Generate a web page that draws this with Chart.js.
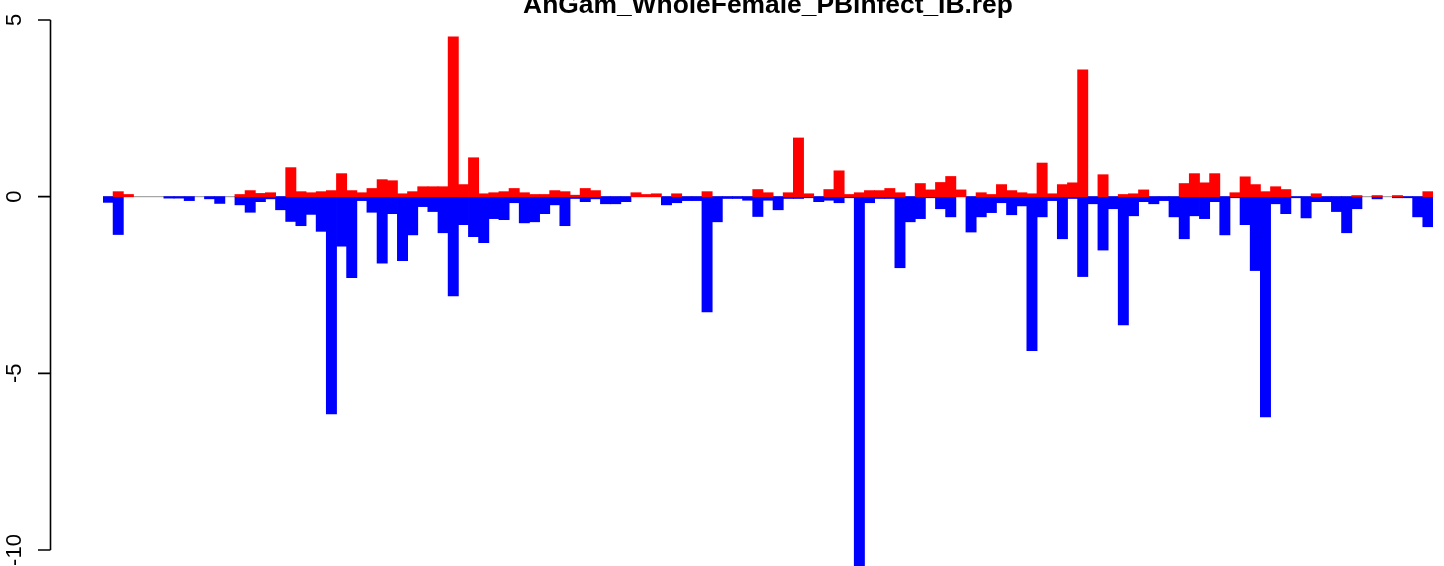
<!DOCTYPE html>
<html>
<head>
<meta charset="utf-8">
<script src="https://cdn.jsdelivr.net/npm/chart.js@4.4.0/dist/chart.umd.min.js"></script>
<style>
  html, body { margin: 0; padding: 0; background: #fff; }
  #wrap { width: 1444px; height: 566px; }
</style>
</head>
<body>
<div id="wrap"><canvas id="barChart" width="1444" height="566"></canvas></div>
<script>
const chartTitle = 'AnGam_WholeFemale_PBinfect_IB.rep';

// positive part of each position (red)
const upValues = [
  0, 0.14, 0.06, 0, 0, 0, 0, 0, 0, 0,
  0, 0, 0, 0.06, 0.17, 0.09, 0.11, 0, 0.82, 0.14,
  0.11, 0.14, 0.17, 0.65, 0.17, 0.11, 0.23, 0.48, 0.45, 0.08,
  0.14, 0.28, 0.28, 0.28, 4.52, 0.34, 1.10, 0.08, 0.11, 0.14,
  0.23, 0.11, 0.06, 0.06, 0.17, 0.14, 0.04, 0.23, 0.17, 0,
  0, 0, 0.11, 0.06, 0.08, 0, 0.08, 0, 0, 0.14,
  0, 0, 0, 0, 0.20, 0.11, 0, 0.11, 1.66, 0.08,
  0, 0.20, 0.73, 0.06, 0.11, 0.17, 0.17, 0.23, 0.11, 0,
  0.37, 0.19, 0.40, 0.57, 0.19, 0, 0.11, 0.06, 0.34, 0.17,
  0.11, 0.08, 0.95, 0.08, 0.34, 0.39, 3.59, 0, 0.62, 0,
  0.06, 0.08, 0.19, 0, 0, 0, 0.37, 0.65, 0.39, 0.65,
  0, 0.11, 0.56, 0.34, 0.14, 0.28, 0.20, 0, 0, 0.08,
  0, 0, 0, 0.03, 0, 0.03, 0, 0.03, 0, 0,
  0.14
];

// negative part of each position (blue)
const downValues = [
  -0.16, -1.07, 0, 0, 0, 0, -0.04, -0.04, -0.11, 0,
  -0.06, -0.19, 0, -0.23, -0.44, -0.14, -0.06, -0.37, -0.70, -0.82,
  -0.50, -0.98, -6.15, -1.40, -2.29, -0.11, -0.44, -1.88, -0.48, -1.81,
  -1.08, -0.28, -0.42, -1.02, -2.81, -0.79, -1.13, -1.30, -0.62, -0.65,
  -0.17, -0.74, -0.71, -0.48, -0.23, -0.82, -0.05, -0.14, -0.06, -0.20,
  -0.20, -0.14, 0, 0, 0, -0.23, -0.17, -0.11, -0.11, -3.26,
  -0.71, -0.05, -0.05, -0.10, -0.56, -0.10, -0.37, -0.05, -0.05, -0.03,
  -0.14, -0.10, -0.17, -0.03, -11.0, -0.17, -0.05, -0.05, -2.01, -0.71,
  -0.62, -0.03, -0.34, -0.57, 0, -1.00, -0.57, -0.45, -0.17, -0.51,
  -0.26, -4.36, -0.57, -0.11, -1.19, -0.05, -2.26, -0.20, -1.51, -0.34,
  -3.63, -0.54, -0.14, -0.20, -0.11, -0.57, -1.19, -0.54, -0.62, -0.14,
  -1.08, -0.03, -0.79, -2.09, -6.23, -0.20, -0.48, -0.03, -0.60, -0.14,
  -0.14, -0.42, -1.02, -0.34, 0, -0.06, 0, -0.03, -0.03, -0.57,
  -0.85
];

const yTicks = [5, 0, -5, -10];
const yTickLabels = ['5', '0', '-5', '-10'];
const positions = upValues.map((_, i) => String(i + 1));

// draws the base-R style left axis, zero line and the (cut off) title
const rAxisPlugin = {
  id: 'rAxis',
  beforeDatasetsDraw(chart) {
    const { ctx, chartArea, scales } = chart;
    const y0 = scales.y.getPixelForValue(0);
    ctx.save();
    ctx.strokeStyle = '#a6a6a6';
    ctx.lineWidth = 1.4;
    ctx.beginPath();
    ctx.moveTo(chartArea.left, y0);
    ctx.lineTo(chartArea.right, y0);
    ctx.stroke();
    ctx.restore();
  },
  afterDraw(chart) {
    const { ctx, chartArea, scales } = chart;
    const yScale = scales.y;
    const axisX = 50.5;
    ctx.save();
    ctx.strokeStyle = '#000';
    ctx.lineWidth = 1.6;
    ctx.beginPath();
    ctx.moveTo(axisX, yScale.getPixelForValue(yTicks[0]));
    ctx.lineTo(axisX, yScale.getPixelForValue(yTicks[yTicks.length - 1]));
    yTicks.forEach(t => {
      const py = yScale.getPixelForValue(t);
      ctx.moveTo(axisX, py);
      ctx.lineTo(axisX - 12.5, py);
    });
    ctx.stroke();

    ctx.fillStyle = '#000';
    ctx.font = '22px "Liberation Sans", Arial, sans-serif';
    ctx.textAlign = 'center';
    ctx.textBaseline = 'alphabetic';
    yTicks.forEach((t, i) => {
      ctx.save();
      ctx.translate(21, yScale.getPixelForValue(t));
      ctx.rotate(-Math.PI / 2);
      ctx.fillText(yTickLabels[i], 0, 0);
      ctx.restore();
    });

    ctx.font = 'bold 26.4px "Liberation Sans", Arial, sans-serif';
    ctx.fillText(chartTitle, (chartArea.left + chartArea.right) / 2, 13);
    ctx.restore();
  }
};

const ctx = document.getElementById('barChart').getContext('2d');
const barChart = new Chart(ctx, {
  type: 'bar',
  data: {
    labels: positions,
    datasets: [
      {
        label: 'up',
        data: upValues.map(v => v || null),
        backgroundColor: '#ff0000',
        borderWidth: 0,
        inflateAmount: 0.4,
        categoryPercentage: 1,
        barPercentage: 1
      },
      {
        label: 'down',
        data: downValues.map(v => v || null),
        backgroundColor: '#0000ff',
        borderWidth: 0,
        inflateAmount: 0.4,
        categoryPercentage: 1,
        barPercentage: 1
      }
    ]
  },
  options: {
    responsive: false,
    animation: false,
    layout: { padding: { left: 103, right: 11, top: 0, bottom: 0 } },
    scales: {
      x: { stacked: true, display: false },
      y: { stacked: true, display: false, min: -10.453, max: 5.566 }
    },
    plugins: {
      legend: { display: false },
      tooltip: { enabled: false }
    }
  },
  plugins: [rAxisPlugin]
});
</script>
</body>
</html>
